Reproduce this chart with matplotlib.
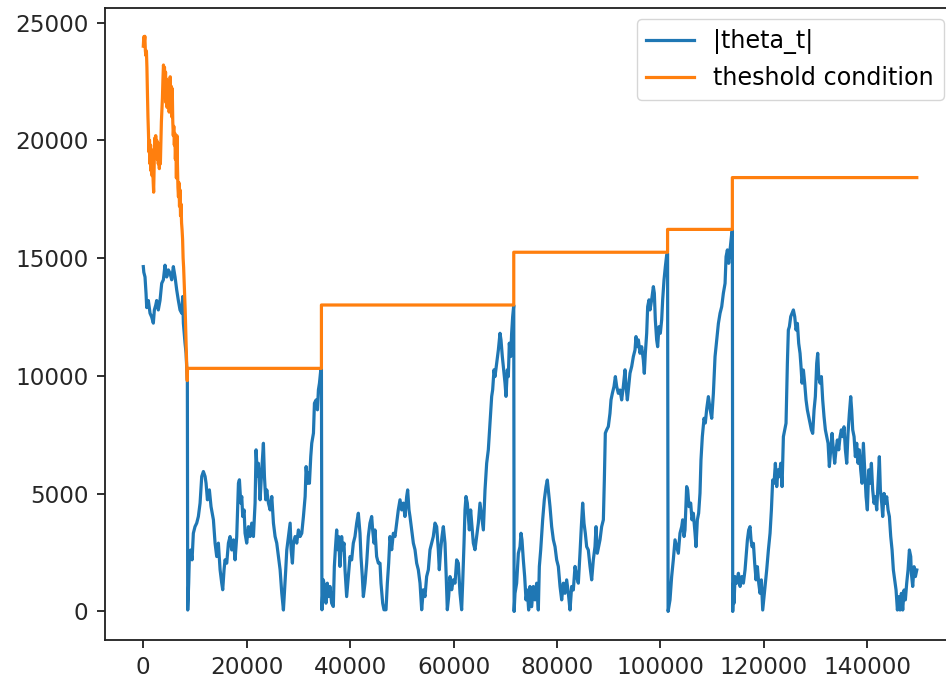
import numpy as np
import matplotlib
matplotlib.use("Agg")
import matplotlib.pyplot as plt

# ---- data (x and y in thousands) ----
seg1 = [(0,14.64),(0.1,14.4),(0.33,14.2),(0.53,13.5),(0.66,12.9),(0.98,13.2),(1.3,12.66),(1.62,12.5),
        (1.94,12.24),(2.14,12.8),(2.4,13.0),(2.59,13.2),(2.9,12.8),(3.23,13.2),(3.56,13.93),(3.88,14.08),
        (4.2,14.7),(4.53,14.2),(4.85,14.5),(5.17,14.36),(5.49,14.08),(5.81,14.64),(6.14,14.2),(6.46,13.65),
        (6.78,13.2),(7.1,12.8),(7.43,12.66),(7.62,13.37),(7.75,12.24),(8.07,11.39),(8.27,10.96),(8.52,9.76)]
seg2 = [(8.59,0.06),(8.78,1.2),(8.91,2.33),(9.17,2.61),(9.43,2.19),(9.68,3.32),(10.0,3.6),(10.33,3.75),
        (10.65,4.03),(10.98,4.6),(11.3,5.73),(11.62,5.94),(11.95,5.73),(12.14,5.44),(12.4,4.74),(12.78,5.16),
        (13.1,4.45),(13.56,3.89),(13.88,2.9),(14.2,2.33),(14.52,2.9),(14.85,1.77),(15.17,1.2),(15.36,0.92),
        (15.62,1.77),(15.81,2.19),(16.14,2.05),(16.46,2.9),(16.78,3.18),(17.1,2.61),(17.43,3.04),(17.75,2.19),
        (18.07,3.18),(18.4,5.44),(18.59,5.59),(18.85,4.6),(19.04,4.88),(19.23,4.03),(19.49,4.31),(19.68,3.32),
        (20.0,2.9),(20.33,3.6),(20.65,3.18),(20.97,3.75),(21.3,3.18),(21.62,4.6),(21.81,6.86),(22.07,5.73),
        (22.26,6.29),(22.59,4.74),(22.91,6.01),(23.23,7.14),(23.43,5.73),(23.68,4.74),(23.88,5.16),(24.2,4.6),
        (24.53,4.31),(24.85,4.88),(25.17,3.75),(25.49,3.18),(25.81,2.9),(26.14,2.33),(26.46,1.77),(26.78,0.78),
        (27.1,0.06),(27.29,0.78),(27.55,1.77),(27.75,2.61),(28.07,3.18),(28.4,3.75),(28.59,2.61),(28.84,2.05),
        (29.04,2.9),(29.36,3.18),(29.68,2.9),(30.0,3.46),(30.33,3.18),(30.65,3.32),(30.97,4.03),(31.3,4.88),
        (31.49,6.15),(31.75,5.44),(31.94,5.87),(32.13,5.44),(32.39,6.58),(32.58,7.14),(32.91,7.57),(33.1,8.84),
        (33.42,8.98),(33.68,8.56),(33.87,9.41),(34.07,9.69),(34.33,10.26),(34.45,10.3)]
seg3 = [(34.55,0.07),(34.82,1.34),(35.14,0.92),(35.33,0.35),(35.59,1.2),(35.79,0.63),(36.11,1.06),(36.43,0.35),
        (36.75,0.21),(36.95,1.91),(37.14,2.62),(37.4,3.46),(37.59,2.62),(37.78,3.18),(38.04,1.91),(38.36,3.18),
        (38.56,2.62),(38.82,2.9),(39.01,1.77),(39.33,0.63),(39.65,1.48),(39.98,2.33),(40.3,2.19),(40.62,2.9),
        (40.94,3.18),(41.27,3.75),(41.59,4.17),(41.91,3.32),(42.1,2.33),(42.36,1.48),(42.56,0.63),(42.88,1.2),
        (43.2,2.05),(43.52,3.18),(43.84,3.75),(44.17,4.03),(44.36,3.46),(44.62,2.9),(44.81,3.46),(45.13,2.33),
        (45.46,2.05),(45.78,2.05),(45.97,1.2),(46.3,0.35),(46.55,0.07),(46.94,0.07),(47.2,1.2),(47.46,2.05),
        (47.71,3.18),(48.04,2.62),(48.36,3.32),(48.68,3.18),(49.0,3.75),(49.32,4.31),(49.65,4.74),(49.97,4.31),
        (50.29,4.6),(50.61,4.03),(50.94,4.88),(51.13,5.16),(51.39,4.31),(51.58,4.03),(51.9,3.46),(52.23,2.9),
        (52.55,2.62),(52.87,2.05),(53.19,1.77),(53.52,1.2),(53.84,0.07),(54.16,0.92),(54.48,0.63),(54.8,1.48),
        (55.13,1.77),(55.45,2.62),(55.77,2.9),(56.09,3.18),(56.42,3.75),(56.74,3.6),(57.06,2.62),(57.25,1.77),
        (57.51,2.62),(57.77,3.18),(58.03,3.6),(58.35,2.9),(58.54,1.77),(58.8,0.07),(59.06,0.63),(59.32,1.48),
        (59.64,0.92),(59.96,1.34),(60.29,1.2),(60.61,2.19),(60.93,2.05),(61.25,0.78),(61.57,0.07),(61.77,1.2),
        (62.03,2.9),(62.22,4.31),(62.41,4.88),(62.67,4.6),(62.86,4.03),(63.06,3.46),(63.31,4.31),(63.51,3.75),
        (63.83,2.9),(64.15,2.62),(64.48,3.18),(64.8,3.75),(65.12,4.6),(65.44,4.03),(65.77,3.46),(66.09,5.16),
        (66.41,6.29),(66.73,6.86),(67.05,7.99),(67.38,9.13),(67.57,9.41),(67.83,10.26),(68.02,9.97),(68.34,10.54),
        (68.67,11.1),(68.99,11.81),(69.18,11.53),(69.44,10.82),(69.63,10.4),(69.96,9.69),(70.15,9.13),(70.41,10.26),
        (70.6,9.97),(70.79,11.39),(71.05,10.82),(71.24,11.81),(71.44,12.52),(71.65,13.0)]
seg4 = [(71.72,0.0),(71.89,0.77),(72.21,1.2),(72.54,2.47),(72.86,2.75),(73.05,3.32),(73.24,3.04),(73.5,2.19),
        (73.76,1.48),(74.02,0.49),(74.28,0.91),(74.53,0.06),(74.79,1.06),(75.11,0.2),(75.44,1.06),(75.76,0.49),
        (76.08,1.2),(76.4,0.06),(76.6,1.91),(76.86,2.61),(77.24,3.89),(77.56,4.74),(77.89,5.3),(78.14,5.58),
        (78.4,5.02),(78.66,4.45),(78.98,3.6),(79.31,3.04),(79.63,2.75),(79.95,2.19),(80.27,1.91),(80.6,1.06),
        (80.92,0.49),(81.24,1.2),(81.56,0.77),(81.88,1.34),(82.21,0.77),(82.53,0.06),(82.85,1.06),(83.17,0.91),
        (83.5,1.91),(83.82,1.48),(84.14,1.2),(84.46,2.47),(84.72,3.6),(84.98,4.6),(85.24,3.74),(85.49,3.32),
        (85.75,2.75),(86.07,2.61),(86.4,1.91),(86.72,1.34),(87.04,2.19),(87.36,2.75),(87.56,3.6),(87.81,2.47),
        (88.07,2.75),(88.33,3.04),(88.65,3.6),(88.98,3.89),(89.17,5.58),(89.36,7.57),(89.62,7.71),(89.94,7.85),
        (90.26,8.41),(90.46,8.98),(90.72,9.26),(91.04,9.55),(91.3,9.97),(91.56,9.55),(91.88,9.26),(92.2,9.4),
        (92.52,8.98),(92.84,9.55),(93.17,10.26),(93.36,9.55),(93.62,8.98),(93.87,9.55),(94.13,10.11),(94.46,10.4),
        (94.78,10.82),(95.1,11.1),(95.29,11.67),(95.55,11.24),(95.75,11.53),(96.07,10.96),(96.39,11.24),(96.71,10.68),
        (96.9,10.11),(97.1,10.96),(97.36,11.81),(97.55,12.94),(97.81,13.23),(98.0,12.8),(98.32,13.23),(98.65,13.79),
        (98.84,13.51),(99.03,12.38),(99.29,11.53),(99.48,11.24),(99.74,12.09),(100.0,11.81),(100.26,12.38),
        (100.45,13.23),(100.71,14.07),(100.97,14.64),(101.23,15.14),(101.4,15.2)]
seg5 = [(101.5,0.0),(101.87,0.49),(102.19,1.48),(102.51,2.19),(102.84,3.04),(103.16,2.75),(103.48,2.47),
        (103.8,3.32),(104.13,3.6),(104.32,3.89),(104.58,3.18),(104.77,3.46),(105.09,5.3),(105.29,5.16),
        (105.54,4.45),(105.87,4.6),(106.12,3.89),(106.38,4.17),(106.71,3.32),(106.9,2.75),(107.16,3.89),
        (107.41,4.17),(107.67,5.02),(107.86,6.43),(108.12,7.42),(108.45,8.2),(108.7,8.0),(108.97,8.6),
        (109.29,9.12),(109.61,8.6),(109.94,8.2),(110.26,9.26),(110.58,10.82),(110.9,11.52),(111.23,12.23),
        (111.55,12.66),(111.87,12.94),(112.19,13.51),(112.52,13.93),(112.71,15.06),(112.97,15.35),(113.22,14.78),
        (113.48,15.35),(113.81,16.05),(113.93,16.2)]
seg6 = [(114.0,0.0),(114.13,1.2),(114.26,0.35),(114.45,1.48),(114.77,1.2),(115.1,1.62),(115.42,1.06),(115.74,1.48),
        (116.06,1.2),(116.38,1.76),(116.58,2.33),(116.84,3.04),(117.09,3.46),(117.35,3.6),(117.54,3.04),(117.74,2.75),
        (118.0,2.89),(118.25,2.04),(118.51,1.34),(118.77,1.9),(119.03,1.2),(119.28,0.77),(119.54,1.34),(119.8,0.06),
        (120.06,0.63),(120.32,1.2),(120.57,1.76),(120.9,2.61),(121.22,3.32),(121.48,4.31),(121.73,5.58),(121.99,5.44),
        (122.25,6.29),(122.51,5.3),(122.77,6.01),(123.02,5.72),(123.28,6.29),(123.54,5.3),(123.8,7.42),(124.05,7.71),
        (124.31,7.99),(124.57,10.53),(124.76,11.95),(124.96,12.09),(125.22,12.52),(125.47,12.66),(125.73,12.8),
        (125.99,12.52),(126.25,11.95),(126.51,12.23),(126.76,11.38),(127.02,10.96),(127.21,10.39),(127.41,9.69),
        (127.67,10.25),(127.92,9.69),(128.18,8.98),(128.44,8.55),(128.7,8.27),(128.95,7.99),(129.21,7.71),
        (129.47,7.56),(129.73,8.55),(129.98,9.12),(130.24,10.53),(130.44,10.96),(130.63,9.97),(130.89,9.69),
        (131.15,9.97),(131.4,8.98),(131.66,8.27),(131.92,7.71),(132.18,7.42),(132.44,7.14),(132.69,6.15),
        (132.95,6.86),(133.21,7.56),(133.47,6.86),(133.72,6.29),(133.98,6.86),(134.24,7.28),(134.5,6.86),
        (134.76,7.42),(135.01,7.71),(135.27,7.42),(135.53,7.84),(135.79,6.86),(136.05,6.29),(136.3,7.56),
        (136.56,8.41),(136.82,9.12),(137.01,8.55),(137.21,7.71),(137.47,7.42),(137.72,6.57),(137.98,7.14),
        (138.24,6.29),(138.5,6.86),(138.75,6.01),(139.01,5.44),(139.27,7.14),(139.53,6.01),(139.79,4.87),
        (140.04,4.31),(140.3,6.01),(140.56,5.44),(140.82,6.29),(141.07,5.16),(141.33,4.59),(141.59,4.87),
        (141.85,4.31),(142.11,5.44),(142.36,6.57),(142.56,5.16),(142.82,4.59),(143.01,4.03),(143.27,5.01),
        (143.52,4.59),(143.78,4.87),(144.04,4.31),(144.3,4.03),(144.56,3.18),(144.82,2.61),(145.07,1.76),
        (145.33,1.34),(145.59,0.91),(145.85,0.06),(146.11,0.63),(146.36,0.06),(146.62,0.77),(146.88,0.06),
        (147.14,0.91),(147.39,0.49),(147.65,1.2),(147.91,1.76),(148.17,2.61),(148.43,2.33),(148.55,1.62),
        (148.81,1.06),(149.07,1.9),(149.33,1.48),(149.6,1.76)]

threshold_start = [(0,24.0),(0.1,24.4),(0.2,24.2),(0.3,24.42),(0.4,23.8),(0.5,23.6),(0.6,23.8),(0.7,23.1),
        (0.8,22.0),(0.9,21.0),(1.0,20.3),(1.1,19.5),(1.2,20.0),(1.3,19.0),(1.4,19.8),(1.5,18.7),(1.6,19.6),
        (1.7,18.5),(1.8,19.3),(1.9,18.3),(2.0,17.8),(2.1,18.9),(2.2,20.1),(2.3,19.4),(2.4,20.2),(2.5,19.3),
        (2.6,20.0),(2.7,19.2),(2.8,19.9),(2.9,19.0),(3.0,19.6),(3.1,18.8),(3.2,19.5),(3.3,19.0),(3.4,19.9),
        (3.5,20.8),(3.6,21.3),(3.7,21.8),(3.8,22.6),(3.9,23.2),(4.0,22.9),(4.1,23.1),(4.2,22.3),(4.3,22.9),
        (4.4,21.6),(4.5,22.6),(4.6,21.4),(4.7,22.5),(4.8,21.8),(4.9,22.4),(5.0,21.2),(5.1,22.2),(5.2,22.7),
        (5.3,21.5),(5.4,22.3),(5.5,21.0),(5.6,22.2),(5.7,20.8),(5.8,20.2),(5.9,20.6),(6.0,19.8),(6.1,20.3),
        (6.2,19.2),(6.3,19.9),(6.4,18.4),(6.5,20.2),(6.6,19.0),(6.7,18.0),(6.8,17.6),(6.9,18.2),(7.0,17.2),
        (7.1,17.9),(7.2,16.8),(7.3,17.3),(7.4,16.5),(7.5,16.2),(7.6,15.8),(7.7,15.0),(7.8,14.6),(7.9,14.0),
        (8.0,13.4),(8.1,12.8),(8.2,12.0),(8.3,11.2),(8.4,10.4),(8.5,9.8)]
reset_x = [8.55, 34.45, 71.65, 101.4, 113.93]
threshold_levels = [10.32, 13.01, 15.25, 16.22, 18.42]
end_x = 149.6

# ---- build series ----
theta_pts = seg1 + seg2 + seg3 + seg4 + seg5 + seg6
theta_x = np.array([p[0] for p in theta_pts]) * 1000
theta_y = np.array([p[1] for p in theta_pts]) * 1000

th_x = [p[0] for p in threshold_start]
th_y = [p[1] for p in threshold_start]
bounds = reset_x + [end_x]
for i, lvl in enumerate(threshold_levels):
    th_x += [bounds[i], bounds[i + 1]]
    th_y += [lvl, lvl]
th_x = np.array(th_x) * 1000
th_y = np.array(th_y) * 1000

# ---- plot ----
plt.rcParams['font.size'] = 17
fig = plt.figure(figsize=(9.46, 6.82), dpi=100)
ax = fig.add_axes([0.1106, 0.0613, 0.8994, 0.9277])
ax.plot(theta_x, theta_y, color='#1f77b4', lw=2.3, label='|theta_t|')
ax.plot(th_x, th_y, color='#ff7f0e', lw=2.3, label='theshold condition')
ax.set_xlim(-7480, 157080)
ax.set_ylim(-1221, 25641)
ax.set_xticks([0, 20000, 40000, 60000, 80000, 100000, 120000, 140000])
ax.set_yticks([0, 5000, 10000, 15000, 20000, 25000])
ax.tick_params(length=3.5 * 1.65, width=0.8 * 1.65, pad=3.5 * 1.65, labelsize=16.7, colors='#222222',
               labelcolor='#262626')
for sp in ax.spines.values():
    sp.set_linewidth(0.8 * 1.65)
    sp.set_color('#222222')
leg = ax.legend(loc='upper right', fontsize=17.2, borderaxespad=0.5)
fig.savefig('out.png', dpi=100)
